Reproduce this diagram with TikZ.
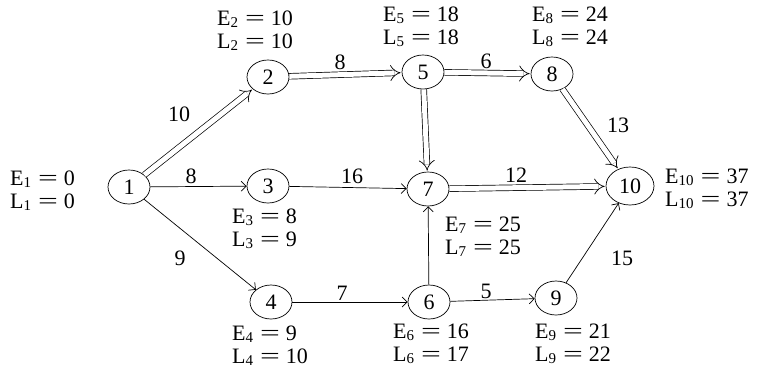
\documentclass[tikz,border=0pt]{standalone}
\usepackage{fontspec}
\setmainfont{Liberation Serif}
\usetikzlibrary{arrows.meta,shapes.geometric}
\newcommand{\lsub}[1]{\raisebox{-0.2ex}{\fontsize{15}{15}\selectfont #1}}
\newcommand{\eqs}{\hspace{7pt}\scalebox{1.6}[1]{=}\hspace{6pt}}
\newcommand{\elab}[3]{E\lsub{#1}\eqs #2\\L\lsub{#1}\eqs #3}
\tikzset{
  ev/.style={ellipse,draw,line width=0.7pt,minimum width=42pt,minimum height=34pt,inner sep=0pt},
  evbig/.style={ev,minimum width=48pt,minimum height=38pt},
  info/.style={anchor=west,align=left,inner sep=0pt},
  wt/.style={inner sep=0pt},
  crit/.style={double,line width=0.7pt,double distance=5pt,-{Implies[]},shorten >=1pt},
  act/.style={line width=0.7pt,-{Straight Barb[length=5pt,width=10pt]}}
}
\begin{document}
\begin{tikzpicture}[x=1pt,y=-1pt,font=\fontsize{22}{23}\selectfont]
\useasboundingbox (0,0) rectangle (762,370);
\node[ev] (n1) at (129,187) {1};
\node[ev] (n2) at (268,77) {2};
\node[ev] (n3) at (268,186) {3};
\node[ev] (n4) at (271,302) {4};
\node[ev] (n5) at (423,72) {5};
\node[ev] (n6) at (429,302) {6};
\node[ev] (n7) at (428,189) {7};
\node[ev] (n8) at (552,74) {8};
\node[ev] (n9) at (556,298) {9};
\node[evbig] (n10) at (630,186) {10};

\draw[crit] (n1) -- (n2);
\draw[crit] (n2) -- (n5);
\draw[crit] (n5) -- (n8);
\draw[crit] (n5) -- (n7);
\draw[crit] (n8) -- (n10);
\draw[crit] (n7) -- (n10);
\draw[act] (n1) -- (n3);
\draw[act] (n1) -- (n4);
\draw[act] (n3) -- (n7);
\draw[act] (n4) -- (n6);
\draw[act] (n6) -- (n7);
\draw[act] (n6) -- (n9);
\draw[act] (n9) -- (n10);

\node[wt] (w12) at (179,114) {10};
\node[wt] (w25) at (340,62) {8};
\node[wt] (w58) at (486,61) {6};
\node[wt] (w810) at (618,125) {13};
\node[wt] (w13) at (191,176) {8};
\node[wt] (w37) at (352,176) {16};
\node[wt] (w710) at (516,175) {12};
\node[wt] (w14) at (180,258) {9};
\node[wt] (w46) at (342,293) {7};
\node[wt] (w69) at (486,291) {5};
\node[wt] (w910) at (622,258) {15};

\node[info] (l1) at (10,191) {\elab{1}{0}{0}};
\node[info] (l2) at (217,31) {\elab{2}{10}{10}};
\node[info] (l5) at (383,27) {\elab{5}{18}{18}};
\node[info] (l8) at (532,27) {\elab{8}{24}{24}};
\node[info] (l10) at (665,189) {\elab{10}{37}{37}};
\node[info] (l3) at (232,229) {\elab{3}{8}{9}};
\node[info] (l7) at (445,237) {\elab{7}{25}{25}};
\node[info] (l4) at (232,346) {\elab{4}{9}{10}};
\node[info] (l6) at (393,344) {\elab{6}{16}{17}};
\node[info] (l9) at (535,344) {\elab{9}{21}{22}};
\end{tikzpicture}
\end{document}
